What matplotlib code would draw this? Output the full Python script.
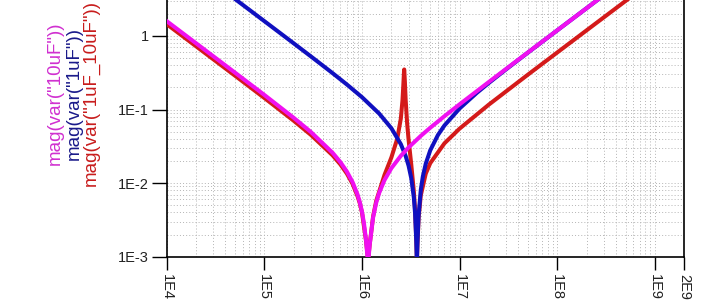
import matplotlib
matplotlib.use("Agg")
import matplotlib.pyplot as plt
from matplotlib.ticker import NullFormatter, LogLocator

# ---- data (frequency in Hz, magnitude) ----
freq_10uF = [1e4, 2e4, 5e4, 1e5, 2e5, 3e5, 5e5, 6e5, 7e5, 8e5, 9e5, 9.5e5, 1e6, 1.05e6,
             1.1e6, 1.155e6, 1.2e6, 1.3e6, 1.4e6, 1.5e6, 1.7e6, 2e6, 2.5e6, 3e6, 4e6,
             5e6, 7e6, 1e7, 2e7, 5e7, 1e8, 2e8, 5e8, 1e9, 2e9]
mag_10uF = [1.591, 0.7955, 0.3177, 0.1580, 0.07719, 0.04947, 0.02586, 0.01936, 0.01438,
            0.01034, 0.00701, 0.0055, 0.0041, 0.0028, 0.00167, 0.0008, 0.00146, 0.00343,
            0.00544, 0.00736, 0.01098, 0.01595, 0.02350, 0.03053, 0.04378, 0.05652,
            0.08130, 0.1178, 0.2380, 0.5966, 1.194, 2.388, 5.969, 11.94, 23.88]

freq_1uF = [1e4, 2e4, 3e4, 5e4, 1e5, 2e5, 3e5, 5e5, 7e5, 1e6, 1.5e6, 2e6, 2.5e6, 2.8e6,
            3e6, 3.2e6, 3.4e6, 3.5e6, 3.6e6, 3.651e6, 3.7e6, 3.8e6, 4e6, 4.2e6, 4.5e6,
            5e6, 6e6, 7e6, 1e7, 1.5e7, 2e7, 3e7, 5e7, 1e8, 2e8, 5e8, 1e9, 2e9]
mag_1uF = [15.91, 7.957, 5.305, 3.182, 1.590, 0.7934, 0.5269, 0.3123, 0.2190, 0.1472,
           0.08819, 0.05570, 0.03382, 0.02341, 0.01727, 0.01158, 0.00630, 0.00382,
           0.00159, 0.0008, 0.00153, 0.00362, 0.00803, 0.01229, 0.01838, 0.02788,
           0.04511, 0.06084, 0.1035, 0.1685, 0.2308, 0.3528, 0.5937, 1.192, 2.387,
           5.969, 11.94, 23.88]

freq_1uF_10uF = [1e4, 2e4, 5e4, 1e5, 2e5, 3e5, 5e5, 6e5, 7e5, 8e5, 9e5, 9.5e5, 1e6,
                 1.1e6, 1.155e6, 1.2e6, 1.3e6, 1.4e6, 1.7e6, 2e6, 2.3e6, 2.5e6, 2.6e6,
                 2.65e6, 2.7e6, 2.708e6, 2.75e6, 2.8e6, 2.9e6, 3e6, 3.2e6, 3.4e6, 3.5e6,
                 3.6e6, 3.651e6, 3.7e6, 3.8e6, 4e6, 4.5e6, 5e6, 7e6, 1e7, 2e7, 5e7, 1e8,
                 2e8, 5e8, 1e9, 2e9]
mag_1uF_10uF = [1.447, 0.7232, 0.2889, 0.1437, 0.07035, 0.04523, 0.02388, 0.01801,
                0.01349, 0.00981, 0.00666, 0.00532, 0.00399, 0.00165, 0.0009, 0.00147,
                0.00353, 0.00575, 0.01290, 0.02231, 0.04031, 0.07552, 0.1339, 0.2124,
                0.3462, 0.3503, 0.2399, 0.1364, 0.06502, 0.03926, 0.01767, 0.00761,
                0.00424, 0.00164, 0.0009, 0.00148, 0.00334, 0.00679, 0.01346, 0.01866,
                0.03480, 0.05508, 0.1172, 0.2976, 0.5965, 1.194, 2.984, 5.969, 11.94]

x_ticks = [1e4, 1e5, 1e6, 1e7, 1e8, 1e9, 2e9]
x_tick_labels = ["1E4", "1E5", "1E6", "1E7", "1E8", "1E9", "2E9"]
y_ticks = [1e-3, 1e-2, 1e-1, 1]
y_tick_labels = ["1E-3", "1E-2", "1E-1", "1"]
legend_labels = ['mag(var("10uF"))', 'mag(var("1uF"))', 'mag(var("1uF_10uF"))']

plt.rcParams['font.family'] = ['Liberation Sans', 'DejaVu Sans']

fig = plt.figure(figsize=(7.21, 3.07), dpi=100)
ax = fig.add_axes([0.2312, 0.1638, 0.9491 - 0.2312, 1.0 - 0.1638])

c_mag = '#f010f0'
c_blue = '#1010c0'
c_red = '#d41a1a'

ax.plot(freq_1uF_10uF, mag_1uF_10uF, color=c_red, lw=2.9, zorder=3)
ax.plot(freq_1uF, mag_1uF, color=c_blue, lw=2.9, zorder=4)
ax.plot(freq_10uF, mag_10uF, color=c_mag, lw=2.9, zorder=5)

ax.set_xscale('log')
ax.set_yscale('log')
ax.set_xlim(1e4, 2e9)
ax.set_ylim(1e-3, 3.08)

ax.xaxis.set_minor_locator(LogLocator(base=10, subs=range(2, 10), numticks=20))
ax.yaxis.set_minor_locator(LogLocator(base=10, subs=range(2, 10), numticks=20))
ax.xaxis.set_minor_formatter(NullFormatter())
ax.yaxis.set_minor_formatter(NullFormatter())

ax.set_xticks(x_ticks)
ax.set_xticklabels(x_tick_labels, rotation=-90, fontsize=10.5, color='#222222')
ax.set_yticks(y_ticks)
ax.set_yticklabels(y_tick_labels, fontsize=10.5, color='#222222')

ax.tick_params(axis='x', which='major', length=9.5, width=1.0, pad=3, direction='out')
ax.tick_params(axis='y', which='major', length=10.8, width=1.0, pad=2, direction='out')
ax.tick_params(which='minor', length=0)

ax.grid(True, which='both', color='#b4b4b4', linestyle=(0, (1, 2.2)), linewidth=0.7)
ax.set_axisbelow(True)

for s in ['left', 'bottom', 'right']:
    ax.spines[s].set_linewidth(1.2)
    ax.spines[s].set_color('black')
ax.spines['top'].set_visible(False)

# rotated series labels at the left
label_colors = ['#d030d0', '#1a1a8a', '#c81c1c']
label_x = [55, 74, 91]
for txt, col, xp in zip(legend_labels, label_colors, label_x):
    fig.text(xp / 721, 1 - 93 / 307, txt, rotation=90, color=col, fontsize=13.5,
             ha='center', va='center')

fig.savefig('out.png', dpi=100)
